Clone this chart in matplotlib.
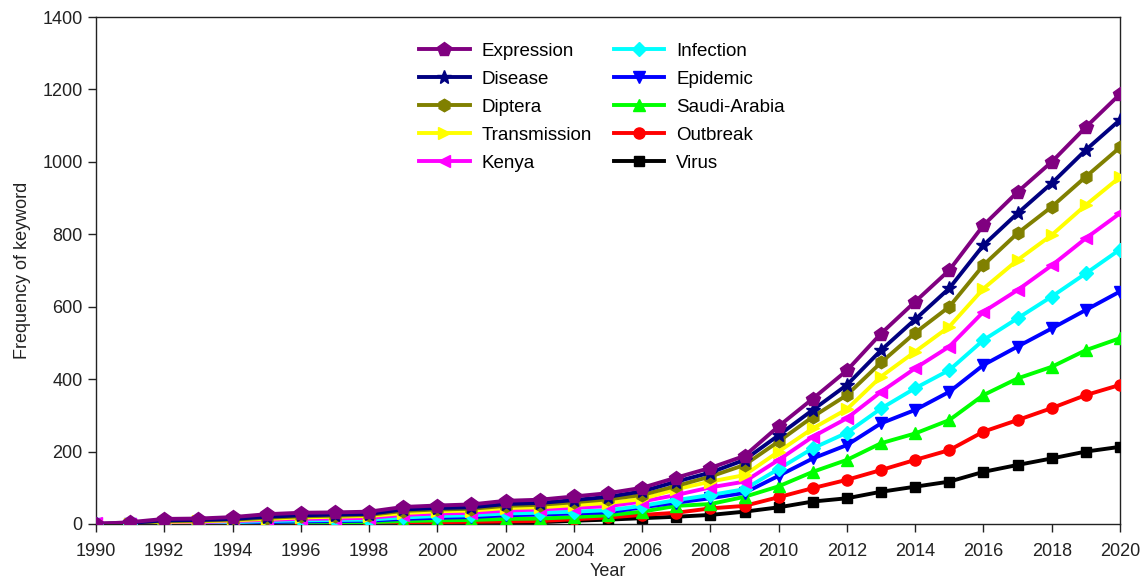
import matplotlib.pyplot as plt
import numpy as np

plt.rcParams['font.family'] = ['Liberation Sans', 'DejaVu Sans']

years = list(range(1990, 2021))

expression = [0, 5, 14, 15, 19, 27, 31, 32, 34, 47, 51, 54, 64, 67, 76, 85, 100, 128, 155, 188,
              270, 346, 424, 526, 614, 701, 825, 917, 1000, 1096, 1187]
disease = [0, 3, 10, 11, 14, 20, 24, 26, 28, 40, 44, 46, 55, 58, 66, 75, 90, 117, 142, 177,
           245, 315, 384, 480, 565, 651, 770, 858, 941, 1033, 1116]
diptera = [0, 2, 8, 9, 12, 17, 21, 23, 25, 36, 40, 42, 50, 53, 60, 68, 80, 105, 131, 163,
           228, 296, 356, 446, 528, 600, 715, 803, 876, 959, 1040]
transmission = [0, 1, 6, 7, 10, 14, 18, 20, 22, 30, 35, 37, 44, 46, 52, 58, 69, 96, 117, 135,
                200, 264, 317, 407, 476, 545, 650, 729, 798, 881, 958]
kenya = [2, 1, 5, 5, 8, 11, 14, 15, 17, 25, 29, 31, 37, 40, 45, 49, 62, 80, 101, 117,
         177, 241, 292, 365, 430, 490, 586, 646, 714, 789, 858]
infection = [0, 0, 3, 3, 5, 8, 10, 11, 12, 18, 22, 24, 29, 31, 34, 38, 50, 66, 80, 96,
             152, 209, 252, 319, 375, 425, 508, 568, 628, 692, 758]
epidemic = [0, 0, 2, 2, 3, 5, 7, 8, 9, 14, 17, 19, 24, 26, 29, 32, 46, 59, 71, 86,
            133, 181, 218, 278, 315, 365, 439, 490, 540, 591, 642]
saudi = [0, 0, 1, 1, 2, 3, 4, 5, 5, 8, 10, 11, 14, 15, 19, 24, 34, 50, 55, 75,
         104, 144, 177, 223, 250, 287, 356, 402, 434, 480, 513]
outbreak = [0, 0, 0, 0, 1, 1, 2, 2, 3, 4, 5, 6, 7, 8, 13, 18, 25, 31, 43, 50,
            74, 99, 122, 149, 177, 204, 255, 287, 320, 356, 384]
virus = [0, 0, 0, 0, 0, 0, 1, 1, 1, 2, 2, 3, 4, 5, 9, 12, 16, 20, 25, 34,
         46, 62, 71, 89, 103, 117, 144, 163, 181, 200, 213]

names = ["Expression", "Disease", "Diptera", "Transmission", "Kenya",
         "Infection", "Epidemic", "Saudi-Arabia", "Outbreak", "Virus"]
series = [expression, disease, diptera, transmission, kenya,
          infection, epidemic, saudi, outbreak, virus]
colors = ["#800080", "#000080", "#808000", "#ffff00", "#ff00ff",
          "#00ffff", "#0000ff", "#00ff00", "#ff0000", "#000000"]
markers = ["p", "*", "h", ">", "<", "D", "v", "^", "o", "s"]
msizes = [10, 10, 9, 9, 9, 7.5, 9, 9, 8, 7]

fig = plt.figure(figsize=(11.48, 5.85), dpi=100)
ax = fig.add_axes([0.0836, 0.1043, 0.892, 0.8666])

handles = []
for i, (nm, y) in enumerate(zip(names, series)):
    h, = ax.plot(years, y, color=colors[i], marker=markers[i], markersize=msizes[i],
                 linewidth=2.8, label=nm, zorder=20 - i)
    handles.append(h)

ax.set_xlim(1990, 2020)
ax.set_ylim(0, 1400)
ax.set_xticks(range(1990, 2021, 2))
ax.set_yticks(range(0, 1401, 200))
ax.tick_params(labelsize=13, length=6, width=1, colors="#222222", labelcolor="#222222")
ax.tick_params(axis="x", pad=8)
for s in ax.spines.values():
    s.set_color("#222222")
    s.set_linewidth(1)
ax.set_xlabel("Year", fontsize=13, color="#222222", labelpad=2)
ax.set_ylabel("Frequency of keyword", fontsize=13, color="#222222", labelpad=8)

ax.legend(handles=handles, ncol=2, loc="upper left", bbox_to_anchor=(0.299, 0.983),
          frameon=False, fontsize=13.5, handlelength=2.7, columnspacing=1.14,
          labelspacing=0.58, handletextpad=0.65)

fig.savefig("out.png", dpi=100)
